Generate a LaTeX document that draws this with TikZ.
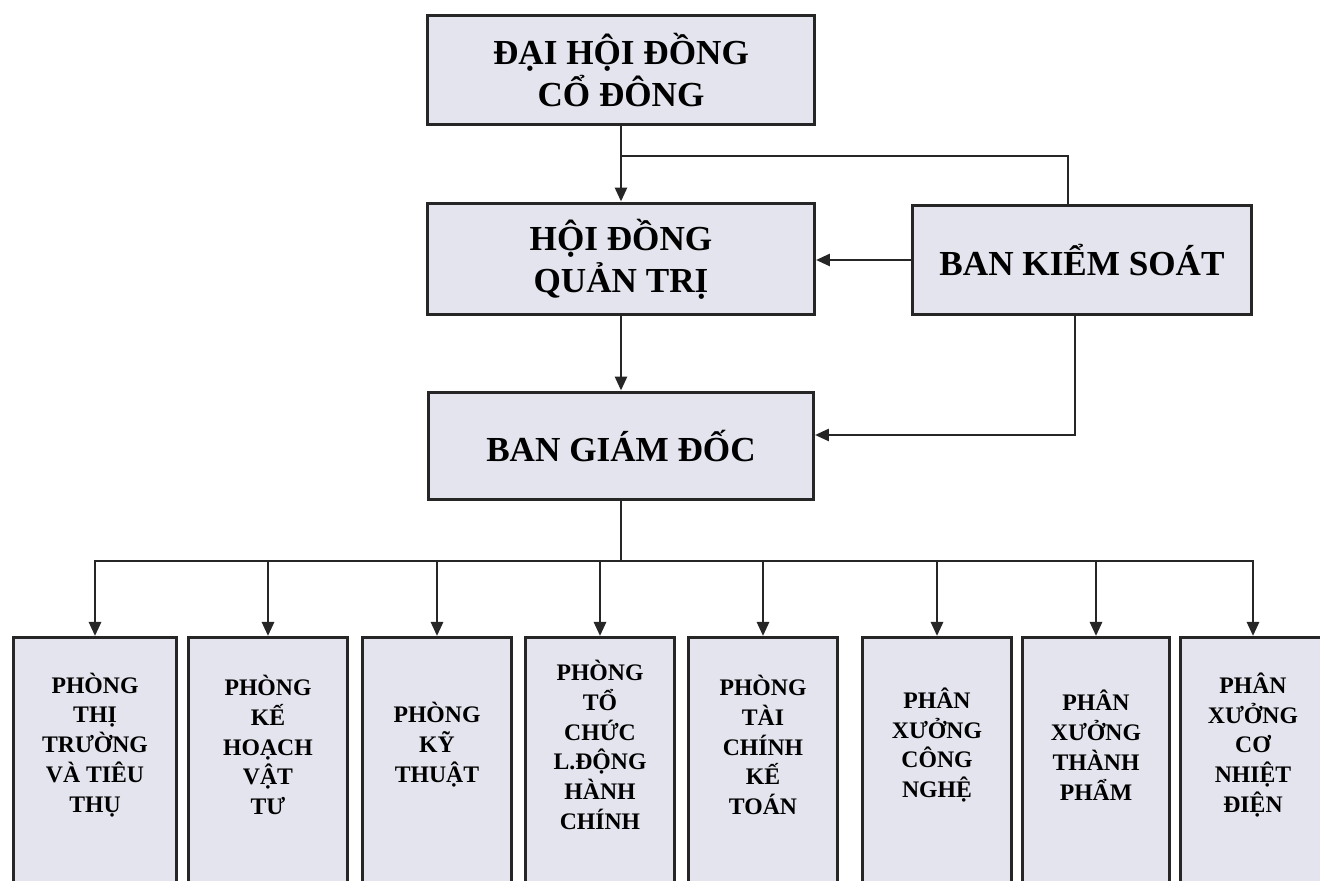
\documentclass[tikz,border=0pt]{standalone}
\usepackage{fontspec}
\setmainfont{Liberation Serif}
\usetikzlibrary{arrows.meta}
\definecolor{boxfill}{HTML}{E4E4EE}

\begin{document}
\begin{tikzpicture}[x=0.02cm, y=-0.02cm, >={Triangle[length=0.28cm,width=0.24cm]},
	topbox/.style={draw=black!85, line width=0.06cm, fill=boxfill, align=center, inner sep=0pt, font=\fontsize{20}{24}\selectfont\bfseries},
	deptbox/.style={draw=black!85, line width=0.06cm, fill=boxfill, anchor=north, minimum height=6cm, inner sep=0pt},
	depttext/.style={align=center, font=\fontsize{13.5}{17}\selectfont\bfseries},
	link/.style={draw=black!85, line width=0.055cm}]
			\useasboundingbox (0,0) rectangle (1320,881);
			\clip (0,0) rectangle (1320,881);
			\node[topbox, minimum width=7.76cm, minimum height=2.2cm] (dhcd) at (621,70) {ĐẠI HỘI ĐỒNG\\CỔ ĐÔNG};
			\node[topbox, minimum width=7.74cm, minimum height=2.24cm] (hdqt) at (621,259) {HỘI ĐỒNG\\QUẢN TRỊ};
			\node[topbox, minimum width=6.8cm, minimum height=2.2cm] (bks) at (1082,260) {BAN KIỂM SOÁT};
			\node[topbox, minimum width=7.7cm, minimum height=2.16cm] (bgd) at (621,446) {BAN GIÁM ĐỐC};
			\coordinate (ksbus) at (621,156);
			\coordinate (bus) at (621,561);
			\draw[link, ->] (dhcd.south) -- (hdqt.north);
			\draw[link] (ksbus) -| ([xshift=-0.28cm]bks.north);
			\draw[link, ->] (bks.west) -- (bks.west -| hdqt.east);
			\draw[link, ->] ([xshift=-0.14cm]bks.south) |- ([yshift=0.22cm]bgd.east);
			\draw[link, ->] (hdqt.south) -- (bgd.north);
			\draw[link] (bgd.south) -- (bus);
			% phong ban / phan xuong
			\foreach \n/\x/\w/\txt in {1/95/3.28/{PHÒNG\\THỊ\\TRƯỜNG\\VÀ TIÊU\\THỤ},
					2/268/3.2/{PHÒNG\\KẾ\\HOẠCH\\VẬT\\TƯ},
					3/437/3.0/{PHÒNG\\KỸ\\THUẬT},
					4/600/3.0/{PHÒNG\\TỔ\\CHỨC\\L.ĐỘNG\\HÀNH\\CHÍNH},
					5/763/3.0/{PHÒNG\\TÀI\\CHÍNH\\KẾ\\TOÁN},
					6/937/3.0/{PHÂN\\XƯỞNG\\CÔNG\\NGHỆ},
					7/1096/2.94/{PHÂN\\XƯỞNG\\THÀNH\\PHẨM},
					8/1253/2.92/{PHÂN\\XƯỞNG\\CƠ\\NHIỆT\\ĐIỆN}} {
				\node[deptbox, minimum width=\w cm] (p\n) at (\x,636) {};
				\node[depttext] (t\n) at (\x,745) {\txt};
				\draw[link, ->] (bus) -| (p\n.north);
			}
		\end{tikzpicture}
\end{document}
